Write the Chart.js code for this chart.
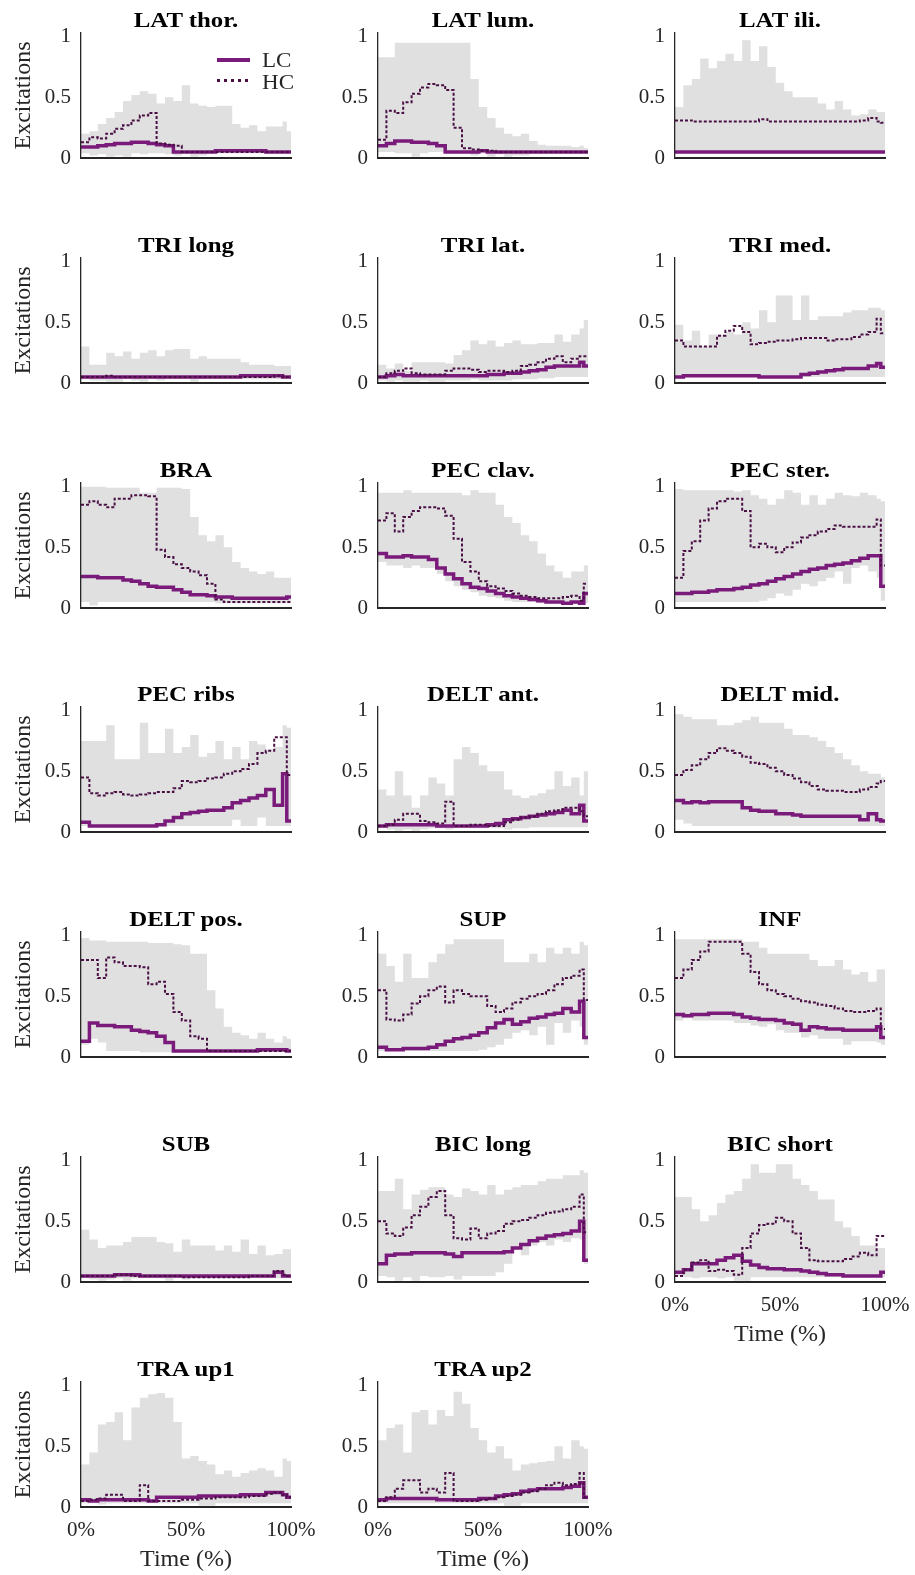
<!DOCTYPE html>
<html><head><meta charset="utf-8">
<script src="https://cdn.jsdelivr.net/npm/chart.js@4.4.1/dist/chart.umd.min.js"></script>
<style>
html,body{margin:0;padding:0;background:#fff;}
#fig{position:relative;width:915px;height:1575px;overflow:hidden;background:#fff;}
#fig canvas{position:absolute;}
.ttl{position:absolute;width:210px;text-align:center;font:bold 22px/26px "Liberation Serif",serif;color:#000;white-space:nowrap;transform:scaleX(1.13);transform-origin:50% 50%;}
.legtxt{position:absolute;font:21px/24px "Liberation Serif",serif;color:#262626;white-space:nowrap;transform:scaleX(1.1);transform-origin:0 50%;}
.legline{position:absolute;}
</style></head><body><div id="fig"></div>
<script>
// ---------- axes / categories ----------
const TIME = [0,4,8,12,16,20,24,28,32,36,40,44,48,52,56,60,64,68,72,76,80,84,88,92,96,98,100];
const Y_TICKS = [0, 0.5, 1];
const X_TICKS = [0, 50, 100];
const X_TICK_LABELS = ['0%', '50%', '100%'];
const MUSCLES = ['LAT thor.','LAT lum.','LAT ili.','TRI long','TRI lat.','TRI med.','BRA','PEC clav.','PEC ster.','PEC ribs','DELT ant.','DELT mid.','DELT pos.','SUP','INF','SUB','BIC long','BIC short','TRA up1','TRA up2'];
const SERIES_NAMES = ['LC', 'HC'];

// ---------- data: HI/LO = grey range, HC = dotted, LC = solid ----------
const LAT_THOR_HI = [0.2,0.22,0.28,0.33,0.38,0.47,0.52,0.55,0.53,0.45,0.5,0.47,0.6,0.45,0.43,0.42,0.43,0.43,0.28,0.25,0.27,0.22,0.26,0.26,0.3,0.22];
const LAT_THOR_LO = [0.04,0.02,0.03,0.01,0.02,0.01,0.04,0.03,0.04,0.04,0.03,0.02,0.04,0.01,0.02,0.04,0.04,0.04,0.04,0.04,0.04,0.04,0.04,0.04,0.04,0.04];
const LAT_THOR_HC = [0.13,0.17,0.16,0.2,0.24,0.27,0.31,0.35,0.37,0.12,0.11,0.1,0.05,0.05,0.05,0.05,0.05,0.05,0.05,0.05,0.05,0.05,0.05,0.05,0.05,0.05];
const LAT_THOR_LC = [0.09,0.09,0.1,0.11,0.12,0.12,0.13,0.13,0.12,0.11,0.1,0.05,0.05,0.05,0.05,0.05,0.06,0.06,0.06,0.06,0.06,0.06,0.05,0.05,0.05,0.05];

const LAT_LUM_HI = [0.83,0.83,0.95,0.95,0.95,0.95,0.95,0.95,0.95,0.95,0.95,0.65,0.42,0.33,0.25,0.2,0.18,0.2,0.14,0.11,0.1,0.1,0.1,0.09,0.1,0.08];
const LAT_LUM_LO = [0.05,0.05,0.04,0.04,0.01,0.04,0.05,0.05,0.04,0.04,0.04,0.02,0.04,0.01,0.03,0.01,0.02,0.02,0.04,0.04,0.04,0.04,0.04,0.04,0.04,0.04];
const LAT_LUM_HC = [0.15,0.39,0.37,0.46,0.53,0.58,0.61,0.6,0.56,0.25,0.08,0.07,0.06,0.06,0.05,0.05,0.05,0.05,0.05,0.05,0.05,0.05,0.05,0.05,0.05,0.05];
const LAT_LUM_LC = [0.1,0.12,0.14,0.14,0.13,0.13,0.12,0.1,0.05,0.05,0.05,0.05,0.06,0.05,0.05,0.05,0.05,0.05,0.05,0.05,0.05,0.05,0.05,0.05,0.05,0.05];

const LAT_ILI_HI = [0.42,0.6,0.65,0.82,0.74,0.8,0.86,0.8,0.97,0.8,0.92,0.75,0.62,0.55,0.5,0.5,0.5,0.45,0.4,0.47,0.4,0.35,0.36,0.4,0.38,0.38];
const LAT_ILI_LO = [0.04,0.04,0.04,0.04,0.04,0.04,0.04,0.04,0.04,0.04,0.04,0.04,0.04,0.04,0.04,0.04,0.04,0.04,0.04,0.04,0.04,0.04,0.04,0.04,0.04,0.04];
const LAT_ILI_HC = [0.31,0.31,0.3,0.3,0.3,0.3,0.3,0.3,0.3,0.3,0.32,0.3,0.3,0.3,0.3,0.3,0.3,0.3,0.3,0.3,0.3,0.3,0.31,0.33,0.3,0.29];
const LAT_ILI_LC = [0.05,0.05,0.05,0.05,0.05,0.05,0.05,0.05,0.05,0.05,0.05,0.05,0.05,0.05,0.05,0.05,0.05,0.05,0.05,0.05,0.05,0.05,0.05,0.05,0.05,0.05];

const TRI_LONG_HI = [0.3,0.15,0.15,0.25,0.22,0.26,0.2,0.25,0.27,0.22,0.27,0.28,0.28,0.2,0.22,0.2,0.2,0.2,0.2,0.17,0.15,0.15,0.15,0.14,0.14,0.14];
const TRI_LONG_LO = [0.03,0.02,0.02,0.01,0.01,0.03,0.02,0.01,0.03,0.02,0.03,0.03,0.03,0.01,0.03,0.03,0.03,0.03,0.03,0.03,0.03,0.03,0.03,0.03,0.03,0.03];
const TRI_LONG_HC = [0.05,0.05,0.05,0.06,0.05,0.05,0.05,0.05,0.05,0.05,0.05,0.05,0.05,0.05,0.05,0.05,0.05,0.05,0.05,0.05,0.05,0.05,0.05,0.06,0.05,0.05];
const TRI_LONG_LC = [0.05,0.05,0.05,0.05,0.05,0.05,0.05,0.05,0.05,0.05,0.05,0.05,0.05,0.05,0.05,0.05,0.05,0.05,0.05,0.06,0.06,0.06,0.06,0.06,0.05,0.05];

const TRI_LAT_HI = [0.15,0.12,0.16,0.1,0.17,0.17,0.17,0.17,0.16,0.23,0.27,0.35,0.32,0.35,0.3,0.33,0.35,0.32,0.32,0.33,0.33,0.4,0.34,0.4,0.45,0.52];
const TRI_LAT_LO = [0.02,0.01,0.02,0.01,0.01,0.02,0.01,0.01,0.02,0.02,0.02,0.03,0.02,0.02,0.02,0.02,0.03,0.03,0.03,0.04,0.04,0.05,0.05,0.05,0.05,0.05];
const TRI_LAT_HC = [0.05,0.08,0.1,0.12,0.08,0.07,0.07,0.07,0.1,0.12,0.12,0.11,0.09,0.1,0.1,0.09,0.1,0.14,0.15,0.17,0.2,0.22,0.17,0.2,0.22,0.22];
const TRI_LAT_LC = [0.05,0.06,0.07,0.06,0.06,0.06,0.06,0.06,0.06,0.06,0.06,0.06,0.06,0.07,0.07,0.08,0.08,0.09,0.1,0.11,0.13,0.14,0.14,0.14,0.17,0.14];

const TRI_MED_HI = [0.48,0.35,0.43,0.3,0.4,0.4,0.42,0.4,0.5,0.45,0.6,0.5,0.72,0.72,0.52,0.72,0.52,0.55,0.55,0.55,0.58,0.6,0.6,0.62,0.62,0.6];
const TRI_MED_LO = [0.05,0.05,0.05,0.05,0.05,0.05,0.05,0.05,0.05,0.05,0.05,0.05,0.05,0.05,0.05,0.05,0.05,0.05,0.05,0.05,0.05,0.05,0.05,0.05,0.05,0.05];
const TRI_MED_HC = [0.35,0.3,0.3,0.3,0.3,0.39,0.43,0.47,0.42,0.32,0.33,0.34,0.35,0.35,0.36,0.37,0.37,0.37,0.35,0.36,0.36,0.38,0.4,0.42,0.53,0.41];
const TRI_MED_LC = [0.05,0.06,0.06,0.06,0.06,0.06,0.06,0.06,0.06,0.06,0.05,0.05,0.05,0.05,0.05,0.07,0.08,0.09,0.1,0.11,0.12,0.12,0.12,0.14,0.16,0.13];

const BRA_HI = [1.0,1.0,1.0,0.99,0.99,0.99,0.99,0.95,0.95,0.99,0.99,0.99,0.98,0.75,0.6,0.55,0.6,0.5,0.38,0.33,0.3,0.28,0.3,0.25,0.25,0.25];
const BRA_LO = [0.05,0.02,0.05,0.05,0.05,0.05,0.05,0.05,0.05,0.05,0.05,0.05,0.05,0.05,0.05,0.05,0.04,0.04,0.04,0.04,0.04,0.04,0.04,0.04,0.04,0.04];
const BRA_HC = [0.85,0.88,0.85,0.83,0.9,0.9,0.93,0.93,0.92,0.48,0.42,0.36,0.33,0.3,0.27,0.2,0.07,0.05,0.05,0.05,0.05,0.05,0.05,0.05,0.05,0.05];
const BRA_LC = [0.26,0.26,0.25,0.25,0.25,0.23,0.22,0.2,0.18,0.17,0.17,0.15,0.13,0.11,0.11,0.1,0.09,0.09,0.08,0.08,0.08,0.08,0.08,0.08,0.08,0.09];

const PEC_CLAV_HI = [0.95,0.95,0.95,0.97,0.95,0.95,0.95,0.95,0.95,0.95,0.93,0.97,0.95,0.95,0.85,0.75,0.7,0.6,0.55,0.45,0.35,0.3,0.25,0.3,0.3,0.35];
const PEC_CLAV_LO = [0.38,0.35,0.35,0.33,0.35,0.33,0.33,0.28,0.22,0.18,0.15,0.13,0.1,0.09,0.08,0.06,0.05,0.05,0.05,0.04,0.04,0.04,0.04,0.03,0.03,0.04];
const PEC_CLAV_HC = [0.72,0.78,0.63,0.75,0.8,0.83,0.83,0.82,0.76,0.57,0.38,0.3,0.22,0.18,0.16,0.14,0.12,0.1,0.09,0.08,0.08,0.08,0.09,0.1,0.06,0.2];
const PEC_CLAV_LC = [0.45,0.42,0.42,0.43,0.42,0.42,0.4,0.33,0.28,0.24,0.2,0.17,0.16,0.14,0.12,0.1,0.09,0.08,0.07,0.06,0.05,0.05,0.04,0.05,0.04,0.12];

const PEC_STER_HI = [0.98,0.97,0.97,0.97,0.97,0.97,0.97,0.96,0.97,0.93,0.9,0.85,0.9,0.97,0.95,0.85,0.93,0.85,0.9,0.95,0.93,0.92,0.95,0.93,0.9,0.88];
const PEC_STER_LO = [0.05,0.05,0.05,0.05,0.05,0.05,0.05,0.05,0.05,0.05,0.06,0.08,0.12,0.1,0.15,0.2,0.18,0.22,0.25,0.3,0.2,0.33,0.35,0.3,0.25,0.06];
const PEC_STER_HC = [0.25,0.47,0.55,0.72,0.82,0.88,0.9,0.9,0.8,0.5,0.53,0.5,0.46,0.5,0.54,0.58,0.6,0.63,0.65,0.68,0.67,0.67,0.67,0.67,0.73,0.35];
const PEC_STER_LC = [0.12,0.12,0.13,0.13,0.14,0.15,0.15,0.16,0.17,0.19,0.2,0.22,0.24,0.26,0.28,0.3,0.32,0.33,0.35,0.36,0.37,0.39,0.41,0.43,0.43,0.18];

const PEC_RIBS_HI = [0.75,0.75,0.75,0.88,0.6,0.6,0.6,0.9,0.65,0.65,0.85,0.65,0.7,0.8,0.62,0.65,0.75,0.6,0.7,0.6,0.75,0.72,0.68,0.7,0.88,0.86];
const PEC_RIBS_LO = [0.05,0.05,0.05,0.05,0.05,0.05,0.05,0.05,0.05,0.05,0.05,0.05,0.05,0.05,0.05,0.05,0.05,0.05,0.1,0.05,0.05,0.12,0.05,0.05,0.05,0.05];
const PEC_RIBS_HC = [0.45,0.32,0.3,0.32,0.33,0.31,0.3,0.31,0.32,0.33,0.33,0.36,0.42,0.41,0.42,0.44,0.45,0.48,0.5,0.52,0.56,0.65,0.67,0.78,0.78,0.47];
const PEC_RIBS_LC = [0.08,0.05,0.05,0.05,0.05,0.05,0.05,0.05,0.05,0.06,0.09,0.12,0.15,0.16,0.17,0.18,0.18,0.2,0.24,0.26,0.28,0.3,0.35,0.22,0.48,0.09];

const DELT_ANT_HI = [0.35,0.3,0.5,0.3,0.2,0.3,0.45,0.4,0.3,0.6,0.7,0.65,0.55,0.5,0.5,0.35,0.3,0.28,0.3,0.32,0.35,0.5,0.38,0.45,0.3,0.5];
const DELT_ANT_LO = [0.03,0.02,0.01,0.02,0.01,0.02,0.03,0.03,0.02,0.03,0.03,0.03,0.03,0.03,0.03,0.02,0.03,0.03,0.04,0.04,0.04,0.04,0.04,0.04,0.04,0.04];
const DELT_ANT_HC = [0.05,0.06,0.1,0.15,0.15,0.09,0.08,0.07,0.25,0.05,0.05,0.06,0.06,0.05,0.05,0.08,0.1,0.12,0.13,0.15,0.17,0.18,0.2,0.2,0.17,0.13];
const DELT_ANT_LC = [0.05,0.06,0.06,0.06,0.06,0.06,0.06,0.05,0.05,0.05,0.05,0.05,0.05,0.06,0.07,0.1,0.11,0.12,0.13,0.14,0.15,0.16,0.18,0.15,0.22,0.09];

const DELT_MID_HI = [0.97,0.95,0.93,0.93,0.93,0.88,0.88,0.9,0.92,0.95,0.9,0.9,0.9,0.85,0.8,0.8,0.78,0.75,0.7,0.65,0.6,0.55,0.5,0.48,0.48,0.45];
const DELT_MID_LO = [0.1,0.07,0.05,0.05,0.05,0.05,0.05,0.05,0.05,0.05,0.05,0.05,0.05,0.05,0.05,0.05,0.05,0.05,0.05,0.05,0.05,0.05,0.05,0.05,0.05,0.05];
const DELT_MID_HC = [0.47,0.51,0.55,0.6,0.65,0.69,0.67,0.65,0.62,0.57,0.56,0.53,0.5,0.47,0.44,0.41,0.38,0.35,0.34,0.34,0.33,0.33,0.35,0.37,0.4,0.42];
const DELT_MID_LC = [0.26,0.24,0.25,0.24,0.25,0.25,0.25,0.25,0.2,0.18,0.17,0.17,0.15,0.15,0.14,0.13,0.13,0.13,0.13,0.13,0.13,0.13,0.1,0.15,0.1,0.09];

const DELT_POS_HI = [0.98,0.96,0.96,0.95,0.95,0.95,0.95,0.95,0.94,0.94,0.94,0.93,0.92,0.85,0.85,0.55,0.4,0.25,0.2,0.18,0.15,0.2,0.15,0.12,0.17,0.15];
const DELT_POS_LO = [0.1,0.15,0.12,0.05,0.05,0.05,0.05,0.04,0.04,0.04,0.04,0.04,0.04,0.04,0.04,0.04,0.04,0.04,0.04,0.04,0.04,0.04,0.04,0.04,0.04,0.04];
const DELT_POS_HC = [0.8,0.8,0.65,0.82,0.78,0.75,0.75,0.74,0.6,0.62,0.52,0.37,0.3,0.17,0.15,0.05,0.05,0.05,0.05,0.05,0.05,0.05,0.05,0.05,0.05,0.05];
const DELT_POS_LC = [0.13,0.28,0.26,0.26,0.25,0.25,0.22,0.21,0.2,0.17,0.12,0.05,0.05,0.05,0.05,0.05,0.05,0.05,0.05,0.05,0.05,0.06,0.06,0.06,0.06,0.05];

const SUP_HI = [0.85,0.75,0.62,0.85,0.65,0.65,0.78,0.85,0.93,0.97,0.97,0.97,0.97,0.97,0.97,0.78,0.78,0.78,0.85,0.78,0.9,0.85,0.9,0.85,0.95,0.92];
const SUP_LO = [0.05,0.05,0.05,0.05,0.05,0.05,0.05,0.05,0.05,0.05,0.05,0.05,0.06,0.08,0.1,0.15,0.2,0.22,0.18,0.25,0.1,0.28,0.2,0.3,0.25,0.1];
const SUP_HC = [0.55,0.31,0.3,0.35,0.44,0.5,0.55,0.58,0.45,0.55,0.52,0.5,0.5,0.42,0.37,0.4,0.45,0.48,0.5,0.52,0.55,0.6,0.65,0.67,0.72,0.47];
const SUP_LC = [0.08,0.06,0.06,0.07,0.07,0.07,0.08,0.1,0.13,0.15,0.16,0.18,0.2,0.24,0.28,0.31,0.27,0.29,0.32,0.33,0.35,0.36,0.4,0.37,0.46,0.16];

const INF_HI = [0.97,0.97,0.97,0.97,0.97,0.97,0.97,0.97,0.95,0.95,0.9,0.85,0.85,0.85,0.85,0.85,0.8,0.75,0.75,0.8,0.72,0.68,0.7,0.62,0.72,0.72];
const INF_LO = [0.3,0.32,0.3,0.3,0.3,0.3,0.3,0.28,0.28,0.26,0.25,0.27,0.22,0.2,0.2,0.16,0.18,0.15,0.15,0.15,0.1,0.13,0.13,0.13,0.12,0.1];
const INF_HC = [0.65,0.72,0.8,0.87,0.95,0.95,0.95,0.95,0.85,0.7,0.6,0.55,0.52,0.5,0.48,0.46,0.45,0.43,0.42,0.4,0.38,0.37,0.37,0.38,0.4,0.23];
const INF_LC = [0.35,0.34,0.35,0.35,0.36,0.36,0.36,0.35,0.33,0.32,0.31,0.31,0.3,0.28,0.27,0.22,0.25,0.24,0.23,0.23,0.22,0.22,0.22,0.22,0.25,0.16];

const SUB_HI = [0.43,0.35,0.28,0.3,0.3,0.33,0.37,0.37,0.37,0.33,0.32,0.25,0.35,0.3,0.3,0.3,0.26,0.3,0.25,0.35,0.23,0.3,0.22,0.23,0.27,0.27];
const SUB_LO = [0.03,0.02,0.01,0.02,0.03,0.01,0.03,0.03,0.03,0.03,0.01,0.03,0.02,0.03,0.03,0.03,0.03,0.03,0.03,0.03,0.03,0.03,0.03,0.03,0.03,0.03];
const SUB_HC = [0.05,0.05,0.05,0.05,0.06,0.06,0.05,0.05,0.05,0.05,0.05,0.05,0.04,0.04,0.04,0.04,0.04,0.04,0.04,0.04,0.05,0.05,0.05,0.09,0.06,0.05];
const SUB_LC = [0.05,0.05,0.05,0.05,0.06,0.06,0.06,0.05,0.05,0.05,0.05,0.05,0.05,0.05,0.05,0.05,0.05,0.05,0.05,0.05,0.05,0.05,0.05,0.08,0.05,0.05];

const BIC_LONG_HI = [0.75,0.75,0.85,0.6,0.72,0.76,0.78,0.78,0.72,0.7,0.77,0.75,0.72,0.8,0.72,0.76,0.78,0.8,0.8,0.83,0.85,0.85,0.88,0.88,0.92,0.9];
const BIC_LONG_LO = [0.05,0.04,0.01,0.04,0.01,0.05,0.04,0.04,0.05,0.02,0.05,0.05,0.05,0.05,0.08,0.15,0.28,0.22,0.3,0.33,0.3,0.35,0.33,0.36,0.35,0.15];
const BIC_LONG_HC = [0.5,0.4,0.38,0.45,0.55,0.62,0.7,0.75,0.55,0.36,0.35,0.44,0.36,0.4,0.42,0.48,0.5,0.51,0.53,0.55,0.57,0.58,0.6,0.62,0.72,0.41];
const BIC_LONG_LC = [0.15,0.22,0.23,0.23,0.24,0.24,0.24,0.24,0.23,0.21,0.24,0.24,0.24,0.24,0.24,0.25,0.28,0.31,0.34,0.36,0.38,0.39,0.4,0.42,0.5,0.18];

const BIC_SHORT_HI = [0.7,0.7,0.6,0.5,0.55,0.65,0.72,0.75,0.85,0.97,0.9,0.9,0.97,0.97,0.85,0.8,0.75,0.68,0.68,0.5,0.45,0.38,0.3,0.3,0.28,0.28];
const BIC_SHORT_LO = [0.05,0.04,0.03,0.04,0.04,0.03,0.04,0.01,0.01,0.04,0.04,0.04,0.04,0.04,0.04,0.04,0.04,0.04,0.04,0.04,0.04,0.04,0.04,0.04,0.04,0.04];
const BIC_SHORT_HC = [0.05,0.1,0.16,0.18,0.09,0.1,0.09,0.06,0.28,0.4,0.47,0.48,0.53,0.5,0.4,0.28,0.18,0.17,0.17,0.17,0.19,0.21,0.24,0.22,0.38,0.38];
const BIC_SHORT_LC = [0.08,0.1,0.15,0.15,0.15,0.18,0.2,0.22,0.17,0.14,0.12,0.11,0.11,0.1,0.1,0.09,0.08,0.07,0.06,0.06,0.05,0.05,0.05,0.05,0.05,0.08];

const TRA_UP1_HI = [0.35,0.45,0.68,0.7,0.78,0.55,0.82,0.9,0.93,0.94,0.9,0.7,0.4,0.42,0.38,0.35,0.27,0.3,0.25,0.28,0.3,0.32,0.3,0.25,0.4,0.38];
const TRA_UP1_LO = [0.03,0.03,0.02,0.03,0.03,0.03,0.03,0.03,0.03,0.03,0.03,0.03,0.03,0.03,0.01,0.01,0.03,0.03,0.03,0.03,0.03,0.03,0.03,0.03,0.03,0.03];
const TRA_UP1_HC = [0.05,0.06,0.07,0.1,0.1,0.05,0.05,0.18,0.05,0.05,0.05,0.05,0.06,0.06,0.07,0.07,0.08,0.08,0.08,0.08,0.09,0.09,0.11,0.12,0.1,0.08];
const TRA_UP1_LC = [0.06,0.05,0.06,0.06,0.06,0.06,0.06,0.06,0.05,0.08,0.08,0.08,0.08,0.08,0.09,0.09,0.09,0.09,0.09,0.1,0.1,0.1,0.12,0.12,0.1,0.08];

const TRA_UP2_HI = [0.55,0.65,0.68,0.45,0.78,0.8,0.68,0.8,0.75,0.95,0.85,0.65,0.55,0.45,0.5,0.4,0.3,0.35,0.36,0.37,0.38,0.5,0.4,0.55,0.5,0.48];
const TRA_UP2_LO = [0.03,0.03,0.03,0.03,0.03,0.03,0.03,0.03,0.03,0.03,0.03,0.03,0.03,0.03,0.03,0.01,0.01,0.03,0.03,0.03,0.03,0.03,0.03,0.03,0.03,0.03];
const TRA_UP2_HC = [0.05,0.08,0.15,0.22,0.22,0.12,0.15,0.12,0.28,0.05,0.05,0.05,0.06,0.07,0.08,0.09,0.1,0.12,0.13,0.15,0.18,0.2,0.18,0.19,0.28,0.08];
const TRA_UP2_LC = [0.06,0.07,0.07,0.07,0.07,0.07,0.07,0.06,0.06,0.06,0.06,0.06,0.07,0.07,0.09,0.1,0.11,0.13,0.14,0.15,0.15,0.15,0.16,0.17,0.2,0.08];

// ---------- panels table built from the arrays ----------
const PANELS = [
  [LAT_THOR_HI, LAT_THOR_LO, LAT_THOR_HC, LAT_THOR_LC],
  [LAT_LUM_HI, LAT_LUM_LO, LAT_LUM_HC, LAT_LUM_LC],
  [LAT_ILI_HI, LAT_ILI_LO, LAT_ILI_HC, LAT_ILI_LC],
  [TRI_LONG_HI, TRI_LONG_LO, TRI_LONG_HC, TRI_LONG_LC],
  [TRI_LAT_HI, TRI_LAT_LO, TRI_LAT_HC, TRI_LAT_LC],
  [TRI_MED_HI, TRI_MED_LO, TRI_MED_HC, TRI_MED_LC],
  [BRA_HI, BRA_LO, BRA_HC, BRA_LC],
  [PEC_CLAV_HI, PEC_CLAV_LO, PEC_CLAV_HC, PEC_CLAV_LC],
  [PEC_STER_HI, PEC_STER_LO, PEC_STER_HC, PEC_STER_LC],
  [PEC_RIBS_HI, PEC_RIBS_LO, PEC_RIBS_HC, PEC_RIBS_LC],
  [DELT_ANT_HI, DELT_ANT_LO, DELT_ANT_HC, DELT_ANT_LC],
  [DELT_MID_HI, DELT_MID_LO, DELT_MID_HC, DELT_MID_LC],
  [DELT_POS_HI, DELT_POS_LO, DELT_POS_HC, DELT_POS_LC],
  [SUP_HI, SUP_LO, SUP_HC, SUP_LC],
  [INF_HI, INF_LO, INF_HC, INF_LC],
  [SUB_HI, SUB_LO, SUB_HC, SUB_LC],
  [BIC_LONG_HI, BIC_LONG_LO, BIC_LONG_HC, BIC_LONG_LC],
  [BIC_SHORT_HI, BIC_SHORT_LO, BIC_SHORT_HC, BIC_SHORT_LC],
  [TRA_UP1_HI, TRA_UP1_LO, TRA_UP1_HC, TRA_UP1_LC],
  [TRA_UP2_HI, TRA_UP2_LO, TRA_UP2_HC, TRA_UP2_LC]
];

// ---------- styling ----------
const SERIF = '"Liberation Serif", "Times New Roman", serif';
const AX = '#262626';
const LC_COLOR = '#7a1a7a';
const HC_COLOR = '#4a1045';
const BAND = '#e0e0e0';
const COL_W = 297, ROW_H = 224.8;
const CV_W = 330, CV_H = 225;
const AREA_LEFT = 81, AREA_RIGHT = 291, AREA_TOP = 33, AREA_BOTTOM = 158;

Chart.defaults.font.family = SERIF;
const fig = document.getElementById('fig');
// stairs: hold the last value until the right edge (x = 100)
const stairs = a => a.concat([a[a.length - 1]]);

PANELS.forEach((p, k) => {
  const row = Math.floor(k / 3), col = k % 3;
  const showX = k >= 17;
  const left = col * COL_W, top = Math.round(row * ROW_H);

  const cv = document.createElement('canvas');
  cv.width = CV_W; cv.height = CV_H;
  cv.style.width = CV_W + 'px'; cv.style.height = CV_H + 'px';
  cv.style.left = left + 'px'; cv.style.top = top + 'px';
  fig.appendChild(cv);

  const ttl = document.createElement('div');
  ttl.className = 'ttl';
  ttl.textContent = MUSCLES[k];
  ttl.style.left = (left + AREA_LEFT) + 'px';
  ttl.style.top = (top + 7) + 'px';
  fig.appendChild(ttl);

  const [hi, lo, hc, lc] = p;
  new Chart(cv, {
    type: 'line',
    data: {
      labels: TIME,
      datasets: [
        { label: SERIES_NAMES[1], data: stairs(hc), borderColor: HC_COLOR, borderWidth: 2, borderDash: [3, 2],
          stepped: true, pointRadius: 0, fill: false },
        { label: SERIES_NAMES[0], data: stairs(lc), borderColor: LC_COLOR, borderWidth: 3.5,
          stepped: true, pointRadius: 0, fill: false },
        { label: 'upper', data: stairs(hi), borderColor: 'rgba(0,0,0,0)', borderWidth: 1, backgroundColor: BAND,
          fill: '+1', stepped: true, pointRadius: 0 },
        { label: 'lower', data: stairs(lo), borderColor: 'rgba(0,0,0,0)', borderWidth: 1,
          fill: false, stepped: true, pointRadius: 0 }
      ]
    },
    options: {
      responsive: false, animation: false, devicePixelRatio: 1,
      events: [],
      layout: { padding: { top: AREA_TOP, right: CV_W - AREA_RIGHT, bottom: 0, left: 0 } },
      plugins: { legend: { display: false }, tooltip: { enabled: false }, title: { display: false } },
      scales: {
        x: {
          type: 'linear', min: 0, max: 100, position: 'bottom',
          afterBuildTicks: s => { s.ticks = X_TICKS.map(v => ({ value: v })); },
          afterFit: s => { s.height = CV_H - AREA_BOTTOM; s.paddingLeft = 0; s.paddingRight = 0; },
          grid: { display: false, drawTicks: false },
          border: { display: true, color: AX, width: 2, z: 1 },
          ticks: { display: showX, padding: 11, color: AX, font: { family: SERIF, size: 21 }, maxRotation: 0, autoSkip: false,
                   callback: (v) => X_TICK_LABELS[X_TICKS.indexOf(v)] },
          title: { display: showX, text: 'Time (%)', color: AX, font: { family: SERIF, size: 24 }, padding: { top: 0, bottom: 0 } }
        },
        y: {
          type: 'linear', min: 0, max: 1.03,
          afterBuildTicks: s => { s.ticks = Y_TICKS.map(v => ({ value: v })); },
          afterFit: s => { s.width = AREA_LEFT; s.paddingTop = 0; s.paddingBottom = 0; },
          grid: { display: false, drawTicks: false },
          border: { display: true, color: AX, width: 1.3, z: 1 },
          ticks: { padding: 10, color: AX, font: { family: SERIF, size: 21 }, callback: (v) => String(v) },
          title: { display: col === 0, text: 'Excitations', color: AX, font: { family: SERIF, size: 24 }, padding: { top: 9, bottom: 0 } }
        }
      }
    }
  });
});

// ---------- legend (first panel) ----------
function legLine(x, y, w, h, bg) {
  const d = document.createElement('div');
  d.className = 'legline';
  d.style.left = x + 'px'; d.style.top = y + 'px'; d.style.width = w + 'px'; d.style.height = h + 'px';
  d.style.background = bg;
  fig.appendChild(d);
}
function legText(x, y, t) {
  const d = document.createElement('div');
  d.className = 'legtxt';
  d.style.left = x + 'px'; d.style.top = y + 'px';
  d.textContent = t;
  fig.appendChild(d);
}
legLine(217, 58, 33, 4, LC_COLOR);
legText(262, 48, SERIES_NAMES[0]);
legLine(217, 79, 33, 3, 'repeating-linear-gradient(90deg,' + HC_COLOR + ' 0 3px, transparent 3px 7px)');
legText(262, 70, SERIES_NAMES[1]);
</script></body></html>
